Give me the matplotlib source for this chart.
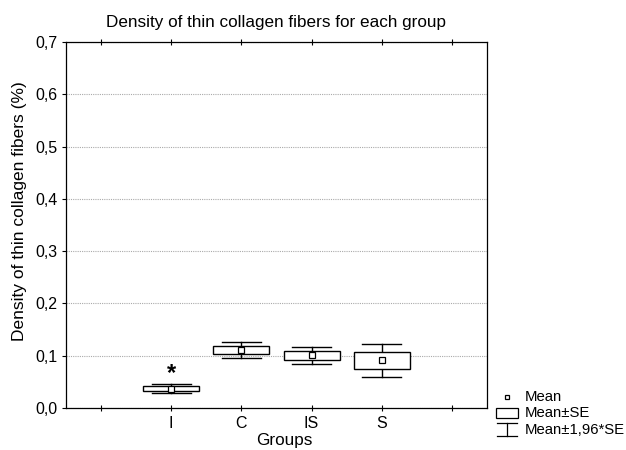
import matplotlib
matplotlib.use("Agg")
import matplotlib.pyplot as plt
from matplotlib.patches import Rectangle
from matplotlib.lines import Line2D
from matplotlib.ticker import FuncFormatter

plt.rcParams['font.family'] = ['Liberation Sans', 'DejaVu Sans']

groups = ['I', 'C', 'IS', 'S']
means = [0.037, 0.1115, 0.1005, 0.091]
se = [0.0045, 0.008, 0.008, 0.0163]
z = 1.96
y_ticks = [0.0, 0.1, 0.2, 0.3, 0.4, 0.5, 0.6, 0.7]

W, H = 626, 450
fig = plt.figure(figsize=(W/100, H/100), dpi=100)
ax = fig.add_axes([66/W, (H-408)/H, (487-66)/W, (408-42)/H])

positions = list(range(1, len(groups) + 1))
box_w = 0.8
cap_w = 0.56
for x, m, s in zip(positions, means, se):
    lo, hi = m - z*s, m + z*s
    ax.plot([x, x], [lo, hi], color='black', lw=1.0, zorder=2)
    ax.plot([x - cap_w/2, x + cap_w/2], [hi, hi], color='black', lw=1.0, zorder=2)
    ax.plot([x - cap_w/2, x + cap_w/2], [lo, lo], color='black', lw=1.0, zorder=2)
    ax.add_patch(Rectangle((x - box_w/2, m - s), box_w, 2*s, facecolor='white',
                           edgecolor='black', lw=1.0, zorder=3))
    ax.plot([x], [m], marker='s', ms=4, mfc='white', mec='black', mew=0.9, zorder=4)

# significance star
ax.text(positions[0], means[0] + z*se[0] - 0.001, '*', ha='center', va='bottom',
        fontsize=17, fontweight='bold')

ax.set_xlim(-0.5, 5.5)
ax.set_ylim(0, 0.7)
ax.set_xticks(range(0, 6))
ax.set_xticklabels([''] + groups + [''], fontsize=11.5)
ax.set_yticks(y_ticks)
ax.yaxis.set_major_formatter(FuncFormatter(lambda v, p: f"{v:.1f}".replace('.', ',')))
ax.tick_params(axis='y', labelsize=11.5, direction='out', length=3, width=0.8, pad=3)
ax.tick_params(axis='x', direction='inout', length=5, width=0.8, top=True, pad=3)
for sp in ax.spines.values():
    sp.set_linewidth(0.9)
ax.grid(axis='y', linestyle=(0, (1, 1)), color='#aaaaaa', lw=0.8, zorder=0)
ax.set_axisbelow(True)

def fx(px):
    return px / W
def fy(py):
    return 1 - py / H

fig.text(fx(276), fy(22), 'Density of thin collagen fibers for each group',
         fontsize=12.3, ha='center', va='center')
fig.text(fx(284), fy(441), 'Groups', fontsize=12.3, ha='center', va='center')
fig.text(fx(20), fy(211), 'Density of thin collagen fibers (%)', fontsize=12.5,
         ha='center', va='center', rotation=90)

# legend (manual, in figure pixel coords)
fig.add_artist(Line2D([fx(507)], [fy(397)], marker='s', ms=3.5, mfc='white', mec='black',
                      mew=0.9, transform=fig.transFigure))
fig.text(fx(525), fy(397), 'Mean', fontsize=10.7, va='center')
fig.add_artist(Rectangle((fx(496), fy(418)), 22/W, 10/H, facecolor='white',
                         edgecolor='black', lw=0.9, transform=fig.transFigure))
fig.text(fx(525), fy(413), 'Mean±SE', fontsize=10.7, va='center')
fig.add_artist(Line2D([fx(497), fx(517)], [fy(423), fy(423)], color='black', lw=0.9,
                      transform=fig.transFigure))
fig.add_artist(Line2D([fx(497), fx(517)], [fy(435.5), fy(435.5)], color='black', lw=0.9,
                      transform=fig.transFigure))
fig.add_artist(Line2D([fx(507), fx(507)], [fy(423), fy(435.5)], color='black', lw=0.9,
                      transform=fig.transFigure))
fig.text(fx(525), fy(430), 'Mean±1,96*SE', fontsize=10.7, va='center')

fig.savefig('out.png', dpi=100)
